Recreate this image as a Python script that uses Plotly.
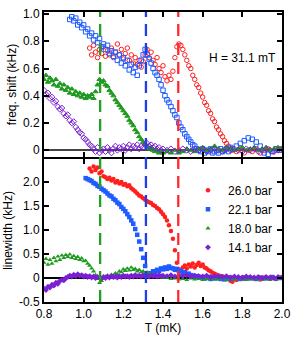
import plotly.graph_objects as go
from plotly.subplots import make_subplots

# ---------------- data ----------------
pressures = ["26.0 bar", "22.1 bar", "18.0 bar", "14.1 bar"]
tc_values = [1.083, 1.314, 1.477]   # green, blue, red dashed lines
field_label = "H = 31.1 mT"

T_26 = [1.03,1.04,1.05,1.06,1.07,1.08,1.09,1.10,1.11,1.12,1.13,1.14,1.15,1.16,1.17,1.18,1.19,1.20,
        1.21,1.22,1.23,1.24,1.25,1.26,1.27,1.28,1.29,1.30,1.31,1.32,1.33,1.34,1.35,1.36,1.37,1.38,
        1.39,1.40,1.41,1.42,1.43,1.44,1.45,1.46,1.47,1.48,1.49,1.50,1.51,1.52,1.53,1.54,1.55,1.56,
        1.57,1.58,1.59,1.60,1.61,1.62,1.63,1.64,1.65,1.66,1.67,1.68,1.69,1.70,1.71,1.72,1.73,1.74,
        1.75,1.77,1.79,1.81,1.83,1.85,1.87,1.89,1.91,1.93,1.95,1.97,1.99]
shift_26 = [0.75,0.70,0.77,0.72,0.68,0.74,0.71,0.76,0.69,0.73,0.70,0.75,0.68,0.72,0.78,0.70,0.74,0.67,
            0.71,0.75,0.66,0.70,0.64,0.68,0.63,0.66,0.61,0.65,0.70,0.74,0.68,0.72,0.66,0.63,0.68,0.60,
            0.57,0.62,0.54,0.51,0.55,0.52,0.58,0.68,0.76,0.78,0.77,0.74,0.70,0.66,0.62,0.60,0.55,0.52,
            0.48,0.46,0.42,0.39,0.35,0.33,0.29,0.27,0.23,0.21,0.17,0.15,0.12,0.10,0.07,0.05,0.03,0.01,
            0.00,-0.01,0.01,-0.02,0.00,-0.01,0.01,-0.02,0.00,0.01,-0.01,0.00,0.01]
width_26 = [2.28,2.22,2.32,2.25,2.30,2.18,2.22,2.12,2.10,2.06,2.09,2.03,2.06,1.99,2.02,1.97,2.00,1.94,
            1.96,1.91,1.93,1.87,1.84,1.80,1.76,1.72,1.70,1.66,1.63,1.60,1.58,1.56,1.52,1.50,1.46,1.43,
            1.38,1.33,1.27,1.20,1.10,0.98,0.82,0.58,0.32,0.18,0.14,0.22,0.26,0.20,0.28,0.24,0.30,0.22,
            0.27,0.32,0.25,0.28,0.22,0.20,0.16,0.14,0.11,0.09,0.07,0.05,0.04,0.03,0.02,0.00,-0.02,-0.06,
            -0.08,-0.04,0.00,-0.02,0.01,-0.01,0.00,-0.03,0.01,-0.01,0.00,-0.02,0.01]

T_22 = [0.93,0.94,0.95,0.96,0.97,0.98,0.99,1.00,1.01,1.02,1.03,1.04,1.05,1.06,1.07,1.08,1.09,1.10,
        1.11,1.12,1.13,1.14,1.15,1.16,1.17,1.18,1.19,1.20,1.21,1.22,1.23,1.24,1.25,1.26,1.27,1.28,
        1.29,1.30,1.31,1.32,1.33,1.34,1.35,1.36,1.37,1.38,1.39,1.40,1.41,1.42,1.43,1.44,1.45,1.46,
        1.47,1.48,1.49,1.50,1.51,1.52,1.53,1.54,1.55,1.56,1.57,1.58,1.59,1.60,1.61,1.62,1.63,1.64,
        1.65,1.66,1.67,1.68,1.69,1.70,1.71,1.72,1.73,1.74,1.75,1.77,1.79,1.81,1.83,1.85,1.87,1.89,
        1.91,1.93,1.95,1.97,1.99]
shift_22 = [0.96,0.98,0.95,0.97,0.92,0.94,0.90,0.92,0.87,0.89,0.84,0.86,0.81,0.84,0.79,0.82,0.76,0.78,
            0.74,0.77,0.71,0.73,0.69,0.72,0.66,0.70,0.64,0.68,0.62,0.66,0.59,0.63,0.57,0.61,0.55,0.62,
            0.66,0.70,0.74,0.70,0.67,0.64,0.60,0.57,0.55,0.52,0.48,0.44,0.40,0.37,0.35,0.32,0.29,0.26,
            0.24,0.20,0.17,0.15,0.12,0.10,0.08,0.06,0.04,0.03,0.01,0.00,-0.01,0.01,-0.02,0.00,-0.01,0.01,
            -0.02,-0.01,0.00,-0.02,0.01,-0.01,0.00,0.01,-0.01,0.02,0.01,0.03,0.05,0.07,0.09,0.08,0.06,0.03,
            -0.02,-0.03,-0.01,0.01,0.00]
width_22 = [None,None,None,None,None,None,None,None,2.08,2.06,2.04,2.02,1.98,1.96,1.92,1.90,1.86,1.83,
            1.80,1.76,1.72,1.70,1.65,1.62,1.57,1.54,1.48,1.44,1.39,1.33,1.27,1.20,1.13,1.02,0.90,0.76,
            0.60,0.42,0.25,0.10,0.06,0.10,0.14,0.12,0.17,0.15,0.20,0.18,0.22,0.19,0.24,0.21,0.20,0.17,
            0.19,0.14,0.15,0.11,0.12,0.08,0.09,0.06,0.05,0.03,0.04,0.02,0.01,0.02,-0.01,0.00,0.02,-0.02,
            0.01,-0.01,0.00,0.02,-0.02,0.01,-0.03,0.00,-0.02,0.01,-0.01,0.00,-0.02,0.01,-0.01,0.00,-0.02,0.01,
            -0.01,0.00,0.02,-0.01,0.00]

T_18 = [0.80,0.81,0.82,0.83,0.84,0.85,0.86,0.87,0.88,0.89,0.90,0.91,0.92,0.93,0.94,0.95,0.96,0.97,
        0.98,0.99,1.00,1.01,1.02,1.03,1.04,1.05,1.06,1.07,1.08,1.09,1.10,1.11,1.12,1.13,1.14,1.15,
        1.16,1.17,1.18,1.19,1.20,1.21,1.22,1.23,1.24,1.25,1.26,1.27,1.28,1.29,1.30,1.31,1.32,1.33,
        1.34,1.35,1.36,1.37,1.38,1.39,1.40,1.42,1.44,1.46,1.48,1.50,1.52,1.54,1.56,1.58,1.60,1.62,
        1.64,1.66,1.68,1.70,1.72,1.74,1.76,1.78,1.80,1.82,1.84,1.86,1.88,1.90,1.92,1.94,1.96,1.98,2.00]
shift_18 = [0.52,0.55,0.50,0.53,0.51,0.48,0.52,0.47,0.49,0.45,0.48,0.44,0.46,0.42,0.45,0.41,0.43,0.40,
            0.42,0.39,0.41,0.38,0.40,0.39,0.41,0.38,0.43,0.48,0.52,0.50,0.51,0.48,0.47,0.44,0.42,0.40,
            0.37,0.35,0.33,0.31,0.29,0.27,0.25,0.22,0.20,0.18,0.15,0.13,0.10,0.08,0.06,0.04,0.03,0.01,
            0.02,0.00,-0.01,0.00,-0.02,-0.01,-0.02,-0.01,-0.02,0.00,-0.02,-0.01,0.01,0.00,-0.01,0.01,0.02,0.00,
            0.01,0.03,0.01,0.00,0.02,0.01,0.00,0.01,0.02,0.00,0.01,0.02,0.00,0.01,0.02,0.00,0.01,0.02,0.01]
width_18 = [0.32,0.40,0.28,0.38,0.30,0.42,0.35,0.45,0.38,0.47,0.42,0.48,0.44,0.49,0.42,0.46,0.40,0.44,
            0.38,0.41,0.35,0.36,0.30,0.26,0.20,0.14,0.06,-0.02,-0.10,-0.06,0.00,0.03,0.05,0.02,0.07,0.05,
            0.10,0.08,0.14,0.12,0.18,0.15,0.20,0.16,0.22,0.17,0.19,0.14,0.17,0.12,0.14,0.10,0.12,0.08,
            0.09,0.06,0.05,0.04,0.02,0.03,0.01,0.00,-0.02,-0.01,-0.03,-0.02,-0.04,-0.01,-0.03,-0.02,-0.04,-0.02,
            -0.03,-0.01,-0.03,-0.02,-0.04,-0.02,-0.03,-0.01,-0.02,-0.04,-0.02,-0.03,-0.01,-0.03,-0.02,-0.04,-0.01,-0.02,0.00]

T_14 = [0.80,0.81,0.82,0.83,0.84,0.85,0.86,0.87,0.88,0.89,0.90,0.91,0.92,0.93,0.94,0.95,0.96,0.97,
        0.98,0.99,1.00,1.01,1.02,1.03,1.04,1.05,1.06,1.07,1.08,1.09,1.10,1.11,1.12,1.13,1.14,1.15,
        1.16,1.17,1.18,1.19,1.20,1.21,1.22,1.23,1.24,1.25,1.26,1.27,1.28,1.29,1.30,1.31,1.32,1.33,
        1.34,1.35,1.36,1.37,1.38,1.39,1.40,1.42,1.44,1.46,1.48,1.50,1.52,1.54,1.56,1.58,1.60,1.62,
        1.64,1.66,1.68,1.70,1.72,1.74,1.76,1.78,1.80,1.82,1.84,1.86,1.88,1.90,1.92,1.94,1.96,1.98,2.00]
shift_14 = [0.44,0.41,0.42,0.38,0.39,0.35,0.36,0.32,0.30,0.31,0.27,0.25,0.26,0.22,0.20,0.21,0.17,0.15,
            0.13,0.12,0.09,0.08,0.06,0.04,0.03,0.01,-0.01,0.02,-0.02,0.00,0.01,-0.01,0.02,0.00,-0.02,0.01,
            0.03,0.00,0.02,0.01,0.03,0.00,0.02,0.04,0.01,0.03,0.02,0.04,0.01,0.03,0.02,0.04,0.05,0.03,
            0.04,0.02,0.03,0.01,0.02,0.00,0.01,0.00,0.01,-0.01,0.00,0.01,0.00,-0.01,0.01,0.00,0.01,-0.01,
            0.00,0.01,0.00,-0.01,0.01,0.00,0.01,0.00,-0.01,0.01,0.00,0.01,-0.01,0.00,0.01,0.00,-0.01,0.00,0.01]
width_14 = [-0.22,-0.25,-0.18,-0.20,-0.14,-0.16,-0.10,-0.12,-0.06,-0.04,-0.05,0.00,0.02,0.05,0.03,0.07,0.04,0.08,
            0.05,0.06,0.03,0.05,0.02,0.04,0.01,0.03,0.00,0.02,0.01,-0.01,0.02,0.00,0.03,0.01,0.04,0.02,
            0.03,0.01,0.04,0.02,0.05,0.03,0.04,0.02,0.05,0.03,0.06,0.04,0.05,0.03,0.06,0.04,0.05,0.03,
            0.06,0.04,0.05,0.03,0.06,0.04,0.05,0.04,0.06,0.03,0.05,0.04,0.06,0.03,0.05,0.04,0.03,0.05,
            0.02,0.04,0.03,0.02,0.04,0.01,0.03,0.02,0.01,0.03,0.02,0.01,0.02,0.00,0.02,0.01,0.00,0.02,0.01]

# ---------------- style ----------------
colors = ["#ff1f1f", "#1f5bff", "#1e9a1e", "#7a1fd4"]
dash_colors = ["#22a022", "#1f3fe8", "#ff2a2a"]
top_symbols = ["circle-open", "square-open", "triangle-up", "diamond-open"]
bot_symbols = ["circle", "square", "triangle-up", "diamond"]
FONT = "Liberation Sans, Arial, sans-serif"

series = [(T_26, shift_26, width_26), (T_22, shift_22, width_22),
          (T_18, shift_18, width_18), (T_14, shift_14, width_14)]

fig = make_subplots(rows=2, cols=1, vertical_spacing=0.0)

for i, (T, s, w) in enumerate(series):
    fig.add_trace(go.Scatter(x=T, y=s, mode="markers", showlegend=False,
                             marker=dict(symbol=top_symbols[i], size=4.5, color=colors[i],
                                         line=dict(width=1, color=colors[i]))), row=1, col=1)
for i, (T, s, w) in enumerate(series):
    fig.add_trace(go.Scatter(x=T, y=w, mode="markers", name=pressures[i],
                             marker=dict(symbol=bot_symbols[i], size=4.5, color=colors[i],
                                         line=dict(width=0))), row=2, col=1)

for tc, c in zip(tc_values, dash_colors):
    fig.add_shape(type="line", xref="x", yref="paper", x0=tc, x1=tc, y0=0, y1=1,
                  line=dict(color=c, width=2.3, dash="12px,7px"))

axis_common = dict(showline=True, linecolor="black", linewidth=2, mirror="ticks",
                   ticks="inside", ticklen=5, tickwidth=1.5, tickcolor="black",
                   showgrid=False, tickfont=dict(family=FONT, size=12, color="black"))

fig.update_xaxes(range=[0.8, 2.0], tickvals=[0.8, 1.0, 1.2, 1.4, 1.6, 1.8, 2.0],
                 zeroline=False, **axis_common)
fig.update_xaxes(showticklabels=False, row=1, col=1)
fig.update_xaxes(ticktext=["0.8", "1.0", "1.2", "1.4", "1.6", "1.8", "2.0"],
                 title=dict(text="T (mK)", font=dict(family=FONT, size=12, color="black"), standoff=2),
                 row=2, col=1)

fig.update_yaxes(range=[-0.05, 1.015], tickvals=[0, 0.2, 0.4, 0.6, 0.8, 1.0],
                 ticktext=["0", "0.2", "0.4", "0.6", "0.8", "1.0"],
                 zeroline=True, zerolinecolor="#444444", zerolinewidth=1.5,
                 title=dict(text="freq. shift (kHz)", font=dict(family=FONT, size=12, color="black"), standoff=4),
                 domain=[0.5, 1.0], row=1, col=1, **axis_common)
fig.update_yaxes(range=[-0.5, 2.48], tickvals=[-0.5, 0, 0.5, 1.0, 1.5, 2.0],
                 ticktext=["-0.5", "0", "0.5", "1.0", "1.5", "2.0"],
                 zeroline=True, zerolinecolor="black", zerolinewidth=1.5,
                 title=dict(text="linewidth (kHz)", font=dict(family=FONT, size=12, color="black"), standoff=4),
                 domain=[0.0, 0.4933], row=2, col=1, **axis_common)

fig.add_annotation(x=1.80, y=0.675, xref="x", yref="y", text=field_label, showarrow=False,
                   font=dict(family=FONT, size=12, color="black"))

fig.update_layout(
    width=298, height=339,
    margin=dict(l=40, r=9, t=7, b=32),
    paper_bgcolor="white", plot_bgcolor="white",
    font=dict(family=FONT, size=12, color="black"),
    legend=dict(x=0.605, y=0.435, xanchor="left", yanchor="top", bgcolor="rgba(0,0,0,0)",
                font=dict(family=FONT, size=12, color="black"), tracegroupgap=0),
)

fig.write_html("out.html", config={"displayModeBar": False},
               post_script="document.body.style.margin='0px';")
